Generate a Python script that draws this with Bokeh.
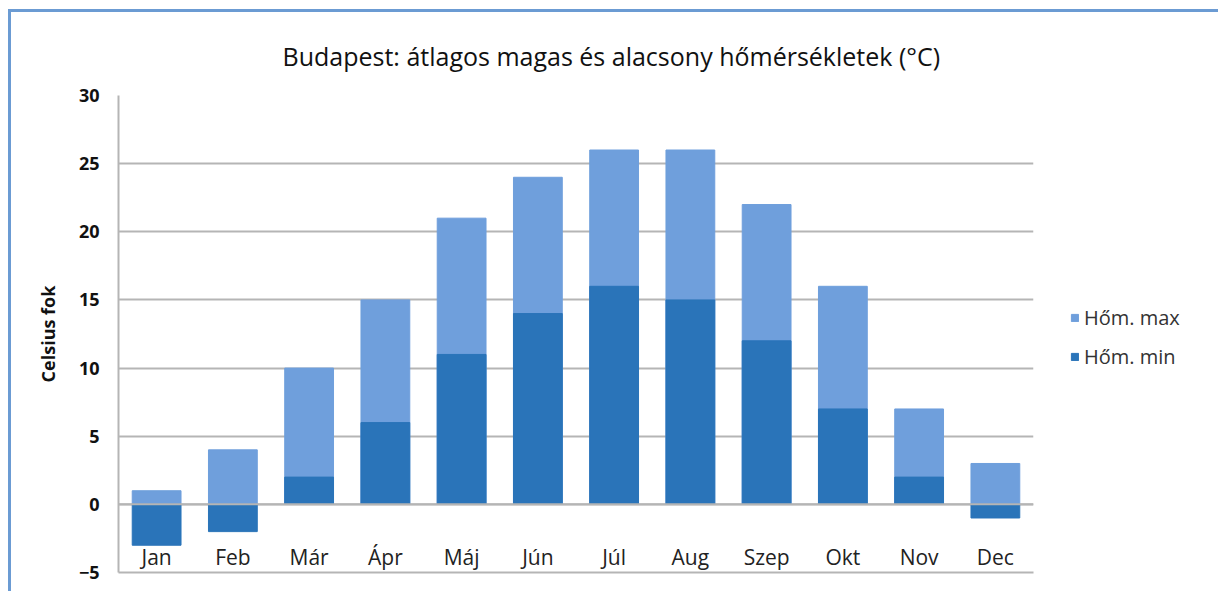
from bokeh.plotting import figure
from bokeh.models import FactorRange, Range1d, Legend, LegendItem, Span, ColumnDataSource, FixedTicker
from bokeh.embed import file_html
from bokeh.resources import INLINE

months = ["Jan", "Feb", "Már", "Ápr", "Máj", "Jún", "Júl", "Aug", "Szep", "Okt", "Nov", "Dec"]
t_max = [1, 4, 10, 15, 21, 24, 26, 26, 22, 16, 7, 3]
t_min = [-3, -2, 2, 6, 11, 14, 16, 15, 12, 7, 2, -1]
y_ticks = [-5, 0, 5, 10, 15, 20, 25, 30]
grid_ticks = [0, 5, 10, 15, 20, 25, 30]

FONT = "Open Sans"
LIGHT = "#6f9fdc"
DARK = "#2a74b9"
GRID = "#b5b5b5"

src = ColumnDataSource(dict(m=months, tmax=t_max, tmin=t_min))

p = figure(frame_width=915, frame_height=477,
           x_range=FactorRange(factors=months, range_padding=0),
           y_range=Range1d(-5, 30),
           output_backend="svg", toolbar_location=None,
           min_border_left=107, min_border_right=181,
           min_border_top=83, min_border_bottom=19)

p.styles = {"margin-left": "8px", "margin-top": "9px",
            "border-top": "3px solid #6b9bd3", "border-left": "3px solid #6b9bd3",
            "border-right": "2px solid #cfcfcf"}

p.title.text = "Budapest: átlagos magas és alacsony hőmérsékletek (°C)"
p.title.text_font = FONT
p.title.text_font_size = "25px"
p.title.text_font_style = "normal"
p.title.text_color = "#111111"
p.title.align = "left"
p.title.offset = 164
p.title.standoff = 46

p.outline_line_color = None
p.background_fill_color = "white"
p.border_fill_color = "white"

r_max = p.vbar(x="m", top="tmax", bottom=0, width=0.64, source=src,
               fill_color=LIGHT, line_color=LIGHT)
r_min = p.vbar(x="m", top="tmin", bottom=0, width=0.64, source=src,
               fill_color=DARK, line_color=DARK)

zero = Span(location=0, dimension="width", line_color=GRID, line_width=2, level="overlay")
p.add_layout(zero)

# y axis
p.yaxis.ticker = FixedTicker(ticks=y_ticks)
p.yaxis.major_label_text_font = FONT
p.yaxis.major_label_text_font_style = "bold"
p.yaxis.major_label_text_font_size = "18px"
p.yaxis.major_label_text_color = "#111111"
p.yaxis.major_tick_line_color = None
p.yaxis.minor_tick_line_color = None
p.yaxis.major_label_standoff = 13
p.yaxis.axis_line_color = GRID
p.yaxis.axis_line_width = 2
p.yaxis.axis_label = "Celsius fok"
p.yaxis.axis_label_text_font = FONT
p.yaxis.axis_label_text_font_style = "bold"
p.yaxis.axis_label_text_font_size = "18px"
p.yaxis.axis_label_text_color = "#111111"
p.yaxis.axis_label_standoff = 16

# x axis: labels sit inside the frame, just above the bottom line
p.xaxis.major_label_text_font = FONT
p.xaxis.major_label_text_font_size = "21px"
p.xaxis.major_label_text_color = "#222222"
p.xaxis.major_label_standoff = -36
p.xaxis.major_tick_line_color = None
p.xaxis.minor_tick_line_color = None
p.xaxis.axis_line_color = GRID
p.xaxis.axis_line_width = 2

p.xgrid.grid_line_color = None
p.ygrid.ticker = FixedTicker(ticks=grid_ticks)
p.ygrid.grid_line_color = GRID
p.ygrid.grid_line_width = 2

legend = Legend(items=[LegendItem(label="Hőm. max", renderers=[r_max]),
                       LegendItem(label="Hőm. min", renderers=[r_min])],
                location=(37, 202))
legend.label_text_font = FONT
legend.label_text_font_size = "20px"
legend.label_text_color = "#333333"
legend.glyph_width = 9
legend.glyph_height = 9
legend.label_standoff = 5
legend.label_height = 24
legend.spacing = 12
legend.padding = 0
legend.margin = 0
legend.border_line_color = None
legend.background_fill_alpha = 0
p.add_layout(legend, "right")

open("out.html", "w").write(file_html(p, INLINE))
